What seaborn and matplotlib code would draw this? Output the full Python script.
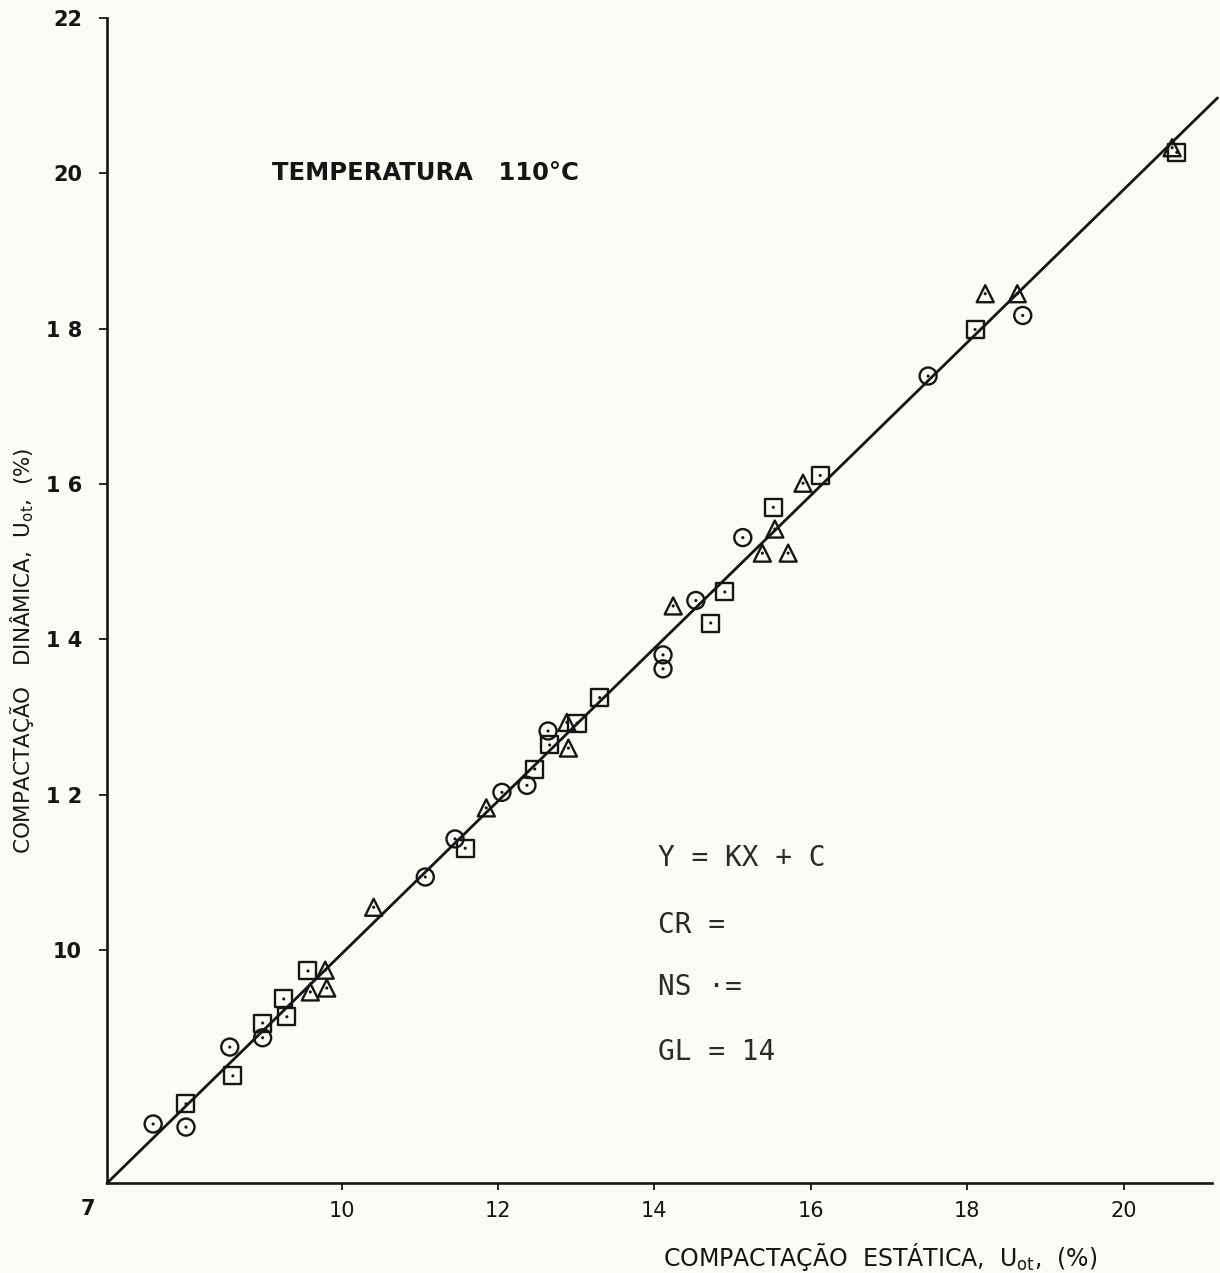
import numpy as np
import pandas as pd
import matplotlib
matplotlib.use("Agg")
import matplotlib.pyplot as plt
import seaborn as sns

# Moisture content: static compaction (x) vs dynamic compaction (y), 110 °C
circle_x = [7.59, 8.01, 8.57, 8.99, 11.07, 11.45, 12.05, 12.37, 12.64,
            14.11, 14.11, 14.53, 15.13, 17.50, 18.71]
circle_y = [7.76, 7.72, 8.75, 8.87, 10.94, 11.43, 12.03, 12.12, 12.82,
            13.80, 13.62, 14.50, 15.31, 17.39, 18.17]

square_x = [8.01, 8.61, 8.99, 9.26, 9.30, 9.57, 11.58, 12.47, 12.66,
            13.01, 13.30, 14.72, 14.90, 15.52, 16.12, 18.10, 20.68]
square_y = [8.02, 8.38, 9.06, 9.37, 9.14, 9.73, 11.31, 12.33, 12.64,
            12.92, 13.25, 14.21, 14.61, 15.70, 16.11, 17.99, 20.27]

triangle_x = [9.79, 9.81, 9.60, 10.41, 11.85, 12.88, 12.90, 14.24, 15.54,
              15.38, 15.71, 15.90, 18.23, 18.64, 20.62]
triangle_y = [9.74, 9.51, 9.46, 10.55, 11.83, 12.93, 12.60, 14.43, 15.42,
              15.11, 15.11, 16.01, 18.45, 18.45, 20.33]

# Fitted line Y = K X + C
fit_k = 0.984
fit_c = 0.11
fit_x = np.array([7.0, 21.2])

x_ticks = [10, 12, 14, 16, 18, 20]
x_ticklabels = ["10", "12", "14", "16", "18", "20"]
y_ticks = [10, 12, 14, 16, 18, 20, 22]
y_ticklabels = ["10", "1 2", "1 4", "1 6", "1 8", "20", "22"]

ink = "#151515"
paper = "#fbfbf6"

sns.set_theme(style="ticks")
plt.rcParams["font.family"] = ["DejaVu Sans"]

fig = plt.figure(figsize=(12.2, 12.73), dpi=100, facecolor=paper)
ax = fig.add_axes([107 / 1220, 90 / 1273, 1105 / 1220, 1165 / 1273])
ax.set_facecolor(paper)

fit_df = pd.DataFrame({"x": fit_x, "y": fit_k * fit_x + fit_c})
sns.lineplot(data=fit_df, x="x", y="y", ax=ax, color=ink, linewidth=2.0,
             zorder=2).lines[-1].set_clip_on(False)

series = [
    (circle_x, circle_y, "o"),
    (square_x, square_y, "s"),
    (triangle_x, triangle_y, "^"),
]
for xs, ys, mk in series:
    df = pd.DataFrame({"x": xs, "y": ys})
    sns.scatterplot(data=df, x="x", y="y", ax=ax, marker=mk, s=150,
                    facecolor="none", edgecolor=ink, linewidth=1.7, zorder=3)
    sns.scatterplot(data=df, x="x", y="y", ax=ax, marker="o", s=5,
                    color=ink, edgecolor="none", linewidth=0, zorder=4)

ax.set_xlim(7, 21.13)
ax.set_ylim(7, 22)
sns.despine(ax=ax)
for side in ("left", "bottom"):
    ax.spines[side].set_linewidth(1.9)
    ax.spines[side].set_color(ink)

ax.set_xticks(x_ticks)
ax.set_xticklabels(x_ticklabels, fontsize=15, color=ink)
ax.set_yticks(y_ticks)
ax.set_yticklabels(y_ticklabels, fontsize=15, color=ink, fontweight="bold")
ax.tick_params(axis="x", direction="out", length=5, width=1.3, color=ink, pad=8)
ax.tick_params(axis="y", direction="out", length=6, width=1.3, color=ink, pad=12)

ax.text(6.76, 6.66, "7", fontsize=15, fontweight="bold", color=ink,
        ha="center", va="center", clip_on=False)

ax.set_xlabel(r"COMPACTAÇÃO  ESTÁTICA,  U$_{\mathrm{ot}}$,  (%)",
              fontsize=17, color=ink)
ax.xaxis.set_label_coords(0.70, -0.050)
ax.set_ylabel(r"COMPACTAÇÃO   DINÂMICA,  U$_{\mathrm{ot}}$,  (%)",
              fontsize=15.5, color=ink)
ax.yaxis.set_label_coords(-0.064, 0.457)

ax.text(9.11, 20.01, "TEMPERATURA   110°C", fontsize=17.5, color=ink,
        fontweight="bold", ha="left", va="center")

stats_lines = ["Y = KX + C", "CR =", "NS ·=", "GL = 14"]
stats_y = [11.18, 10.32, 9.52, 8.69]
for txt, yy in zip(stats_lines, stats_y):
    ax.text(14.05, yy, txt, fontsize=20, color="#2a2a2a",
            family="DejaVu Sans Mono", ha="left", va="center")

fig.savefig("out.png", dpi=100, facecolor=paper)
